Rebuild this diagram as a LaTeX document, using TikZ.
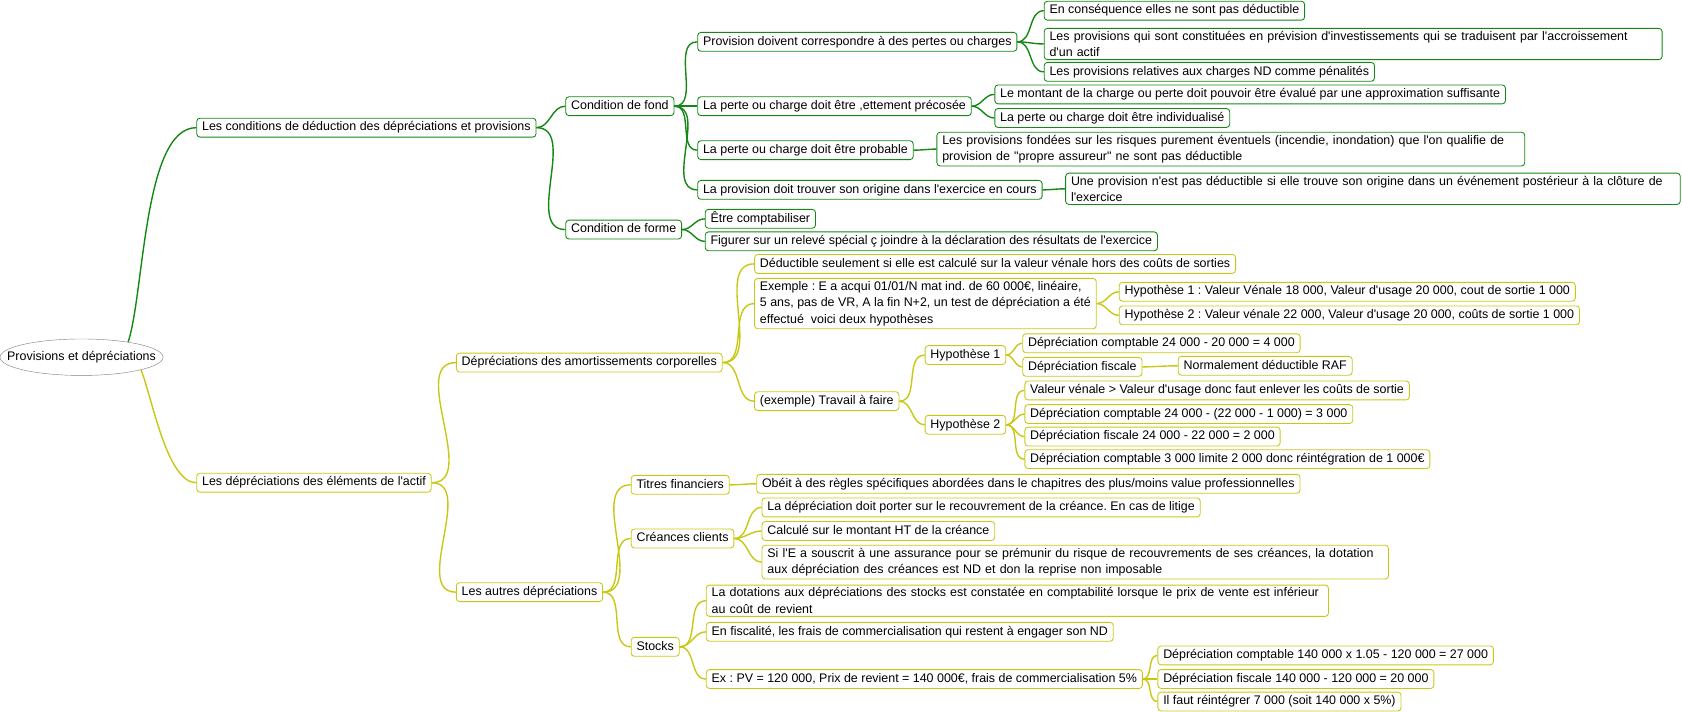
\documentclass[tikz,border=0pt]{standalone}
\usepackage{fontspec}
\setmainfont{Liberation Sans}[Ligatures=TeXOff]
\usetikzlibrary{shapes.geometric}
\frenchspacing
\hyphenpenalty=10000

\definecolor{vert}{RGB}{20,135,20}
\definecolor{jaune}{RGB}{200,200,20}

\begin{document}
\begin{tikzpicture}[x=1pt,y=-1pt,
  font=\fontsize{11.6}{15.5}\selectfont,
  vbox/.style={draw=vert,line width=0.8pt,rounded corners=3pt,anchor=west,inner xsep=5pt,inner ysep=3.2pt,text height=8.6pt,text depth=2.6pt},
  vtwo/.style={draw=vert,line width=0.8pt,rounded corners=3pt,anchor=west,inner xsep=5pt,inner ysep=2.5pt,align=left},
  jbox/.style={vbox,draw=jaune},
  jtwo/.style={vtwo,draw=jaune},
  vlink/.style={draw=vert,line width=1.3pt,out=0,in=180},
  jlink/.style={draw=jaune,line width=1.3pt,out=0,in=180}]
\useasboundingbox (0,0) rectangle (1568,663);

\node[draw=gray,ellipse,minimum width=152pt,minimum height=34pt,inner xsep=-17pt,inner ysep=4pt](r) at (76,333) {Provisions et dépréciations};

% conditions de deduction
\node[vbox](a) at (183,119) {Les conditions de déduction des dépréciations et provisions};
\node[vbox](a1) at (527,99) {Condition de fond};
\node[vbox](a2) at (527,214) {Condition de forme};
\node[vbox](a11) at (650,39) {Provision doivent correspondre à des pertes ou charges};
\node[vbox](a111) at (973,10) {En conséquence elles ne sont pas déductible};
\node[vtwo,text width=566pt](a112) at (973,41) {Les provisions qui sont constituées en prévision d'investissements qui se traduisent par l'accroissement\\d'un actif};
\node[vbox](a113) at (973,67) {Les provisions relatives aux charges ND comme pénalités};
\node[vbox](a12) at (650,99) {La perte ou charge doit être ,ettement précosée};
\node[vbox](a121) at (927,88) {Le montant de la charge ou perte doit pouvoir être évalué par une approximation suffisante};
\node[vbox](a122) at (927,110) {La perte ou charge doit être individualisé};
\node[vbox](a13) at (650,140) {La perte ou charge doit être probable};
\node[vtwo,text width=538pt](a131) at (873,139) {Les provisions fondées sur les risques purement éventuels (incendie, inondation) que l'on qualifie de\\provision de "propre assureur" ne sont pas déductible};
\node[vbox](a14) at (650,177) {La provision doit trouver son origine dans l'exercice en cours};
\node[vtwo,text width=563pt](a141) at (993,176) {Une provision n'est pas déductible si elle trouve son origine dans un événement postérieur à la clôture de\\l'exercice};
\node[vbox](a21) at (657,204) {Être comptabiliser};
\node[vbox](a22) at (657,225) {Figurer sur un relevé spécial ç joindre à la déclaration des résultats de l'exercice};

% depreciations de l'actif
\node[jbox](b) at (183,450) {Les dépréciations des éléments de l'actif};
\node[jbox](b1) at (425,338) {Dépréciations des amortissements corporelles};
\node[jbox](b2) at (425,552) {Les autres dépréciations};
\node[jbox](b11) at (703,246) {Déductible seulement si elle est calculé sur la valeur vénale hors des coûts de sorties};
\node[jtwo](b12) at (703,283) {Exemple : E a acqui 01/01/N mat ind. de 60 000€, linéaire,\\5 ans, pas de VR, A la fin N+2, un test de dépréciation a été\\effectué~ voici deux hypothèses};
\node[jbox](b121) at (1043,272) {Hypothèse 1 : Valeur Vénale 18 000, Valeur d'usage 20 000, cout de sortie 1 000};
\node[jbox](b122) at (1043,294) {Hypothèse 2 : Valeur vénale 22 000, Valeur d'usage 20 000, coûts de sortie 1 000};
\node[jbox](b13) at (703,374) {(exemple) Travail à faire};
\node[jbox](b131) at (862,331) {Hypothèse 1};
\node[jbox](b132) at (862,396) {Hypothèse 2};
\node[jbox](b1311) at (953,320) {Dépréciation comptable 24 000 - 20 000 = 4 000};
\node[jbox](b1312) at (953,342) {Dépréciation fiscale};
\node[jbox](b13121) at (1098,341) {Normalement déductible RAF};
\node[jbox](b1321) at (955,364) {Valeur vénale > Valeur d'usage donc faut enlever les coûts de sortie};
\node[jbox](b1322) at (955,386) {Dépréciation comptable 24 000 - (22 000 - 1 000) = 3 000};
\node[jbox](b1323) at (955,407) {Dépréciation fiscale 24 000 - 22 000 = 2 000};
\node[jbox](b1324) at (955,428) {Dépréciation comptable 3 000 limite 2 000 donc réintégration de 1 000€};
\node[jbox](b21) at (588,452) {Titres financiers};
\node[jbox](b22) at (588,502) {Créances clients};
\node[jbox](b23) at (588,603) {Stocks};
\node[jbox](b211) at (705,451) {Obéit à des règles spécifiques abordées dans le chapitres des plus/moins value professionnelles};
\node[jbox](b221) at (710,473) {La dépréciation doit porter sur le recouvrement de la créance. En cas de litige};
\node[jbox](b222) at (710,495) {Calculé sur le montant HT de la créance};
\node[jtwo,text width=574pt](b223) at (710,524) {Si l'E a souscrit à une assurance pour se prémunir du risque de recouvrements de ses créances, la dotation\\aux dépréciation des créances est ND et don la reprise non imposable};
\node[jtwo,text width=570pt](b231) at (658,560) {La dotations aux dépréciations des stocks est constatée en comptabilité lorsque le prix de vente est inférieur\\au coût de revient};
\node[jbox](b232) at (658,589) {En fiscalité, les frais de commercialisation qui restent à engager son ND};
\node[jbox](b233) at (658,633) {Ex : PV = 120 000, Prix de revient = 140 000€, frais de commercialisation 5\%};
\node[jbox](b2331) at (1079,611) {Dépréciation comptable 140 000 x 1.05 - 120 000 = 27 000};
\node[jbox](b2332) at (1079,633) {Dépréciation fiscale 140 000 - 120 000 = 20 000};
\node[jbox](b2333) at (1079,654) {Il faut réintégrer 7 000 (soit 140 000 x 5\%)};

\path (r.18) edge[vlink,out=72,in=180,looseness=0.6] (a.west);
\path (a.east) edge[vlink] (a1.west);
\path (a.east) edge[vlink] (a2.west);
\path (a1.east) edge[vlink] (a11.west);
\path (a1.east) edge[vlink] (a12.west);
\path (a1.east) edge[vlink] (a13.west);
\path (a1.east) edge[vlink] (a14.west);
\path (a11.east) edge[vlink] (a111.west);
\path (a11.east) edge[vlink] (a112.west);
\path (a11.east) edge[vlink] (a113.west);
\path (a12.east) edge[vlink] (a121.west);
\path (a12.east) edge[vlink] (a122.west);
\path (a13.east) edge[vlink] (a131.west);
\path (a14.east) edge[vlink] (a141.west);
\path (a2.east) edge[vlink] (a21.west);
\path (a2.east) edge[vlink] (a22.west);

\path (r.-12) edge[jlink,out=-68,in=180,looseness=0.6] (b.west);
\path (b.east) edge[jlink] (b1.west);
\path (b.east) edge[jlink] (b2.west);
\path (b1.east) edge[jlink] (b11.west);
\path (b1.east) edge[jlink] (b12.west);
\path (b1.east) edge[jlink] (b13.west);
\path (b12.east) edge[jlink] (b121.west);
\path (b12.east) edge[jlink] (b122.west);
\path (b13.east) edge[jlink] (b131.west);
\path (b13.east) edge[jlink] (b132.west);
\path (b131.east) edge[jlink] (b1311.west);
\path (b131.east) edge[jlink] (b1312.west);
\path (b1312.east) edge[jlink] (b13121.west);
\path (b132.east) edge[jlink] (b1321.west);
\path (b132.east) edge[jlink] (b1322.west);
\path (b132.east) edge[jlink] (b1323.west);
\path (b132.east) edge[jlink] (b1324.west);
\path (b2.east) edge[jlink] (b21.west);
\path (b2.east) edge[jlink] (b22.west);
\path (b2.east) edge[jlink] (b23.west);
\path (b21.east) edge[jlink] (b211.west);
\path (b22.east) edge[jlink] (b221.west);
\path (b22.east) edge[jlink] (b222.west);
\path (b22.east) edge[jlink] (b223.west);
\path (b23.east) edge[jlink] (b231.west);
\path (b23.east) edge[jlink] (b232.west);
\path (b23.east) edge[jlink] (b233.west);
\path (b233.east) edge[jlink] (b2331.west);
\path (b233.east) edge[jlink] (b2332.west);
\path (b233.east) edge[jlink] (b2333.west);
\end{tikzpicture}
\end{document}
